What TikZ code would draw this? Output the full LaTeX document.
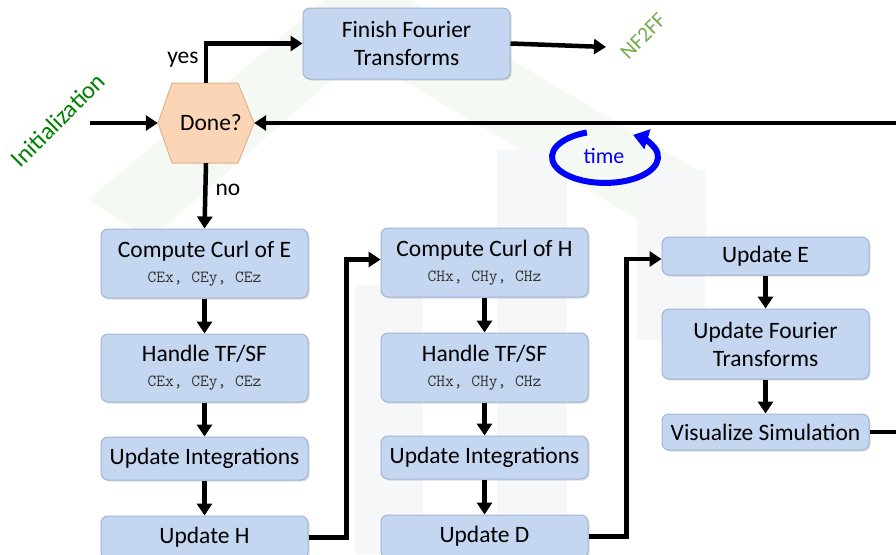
\documentclass[tikz,border=0pt]{standalone}
\usepackage{fontspec}
\setmainfont{Carlito}
\usetikzlibrary{arrows.meta,shadows}

\definecolor{boxfill}{RGB}{197,214,241}
\definecolor{boxline}{RGB}{160,180,214}
\definecolor{hexfill}{RGB}{251,213,181}
\definecolor{hexline}{RGB}{222,180,142}
\definecolor{initgreen}{RGB}{0,128,0}
\definecolor{nfgreen}{RGB}{112,173,71}
\definecolor{wmgreen}{RGB}{244,249,244}
\definecolor{wmgray}{RGB}{246,247,248}
\definecolor{codegray}{RGB}{50,50,50}

% field names in typewriter
\newcommand{\fld}[1]{{\ttfamily\fontsize{17}{19}\selectfont\color{codegray}#1}}

\tikzset{
	stepbox/.style={draw=boxline, fill=boxfill, line width=1pt, rounded corners=7pt,
		minimum width=207pt, align=center, inner sep=0pt,
		drop shadow={shadow xshift=1.5pt, shadow yshift=-1.5pt, opacity=0.25}},
	flow/.style={line width=4.5pt, -{Triangle[length=12pt,width=15pt]}},
}

\begin{document}
\begin{tikzpicture}[every node/.style={font=\fontsize{23.5}{28}\selectfont}, x=1pt, y=-1pt]

\useasboundingbox (0,0) rectangle (896,554);

% Faint watermark in the background
\fill[wmgreen] (88,200) -- (360,-30) -- (706,175) -- (706,260) -- (360,55) -- (150,240) -- cycle;
\fill[wmgray] (355,285) rectangle (423,554);
\fill[wmgray] (497,150) rectangle (567,554);
\fill[wmgray] (637,170) rectangle (705,340);

% Decision
\draw[fill=hexfill, draw=hexline, line width=1pt] (158,123) -- (172,83) -- (238,83) -- (254,123) -- (238,163) -- (172,163) -- cycle;
\node[minimum width=96pt, minimum height=80pt, inner sep=0pt] (done) at (206,123) {\hspace{10pt}Done?};

\node[stepbox, minimum height=71pt] (finish) at (406.5,43.5) {Finish Fourier\\Transforms};

% E column
\node[stepbox, minimum height=69pt] (curlE) at (204.5,263.5) {Compute Curl of E\\[-3pt]\fld{CEx, CEy, CEz}};
\node[stepbox, minimum height=68pt] (tfsfE) at (204.5,368) {Handle TF/SF\\[-3pt]\fld{CEx, CEy, CEz}};
\node[stepbox, minimum height=43pt] (integE) at (204.5,458.5) {Update Integrations};
\node[stepbox, minimum height=43pt] (updH) at (204.5,537.5) {Update H};

% H column
\node[stepbox, minimum height=69pt] (curlH) at (484.5,262.5) {Compute Curl of H\\[-3pt]\fld{CHx, CHy, CHz}};
\node[stepbox, minimum height=69pt] (tfsfH) at (484.5,367.5) {Handle TF/SF\\[-3pt]\fld{CHx, CHy, CHz}};
\node[stepbox, minimum height=43pt] (integH) at (484.5,457.5) {Update Integrations};
\node[stepbox, minimum height=43pt] (updD) at (484.5,536.5) {Update D};

% E update column
\node[stepbox, minimum height=38pt] (updE) at (765.5,256) {Update E};
\node[stepbox, minimum height=70pt] (updFT) at (765.5,344) {Update Fourier\\Transforms};
\node[stepbox, minimum height=36pt] (vis) at (765.5,432) {Visualize Simulation};

% Labels
\node[rotate=45, text=initgreen, font=\fontsize{24.5}{28}\selectfont] (init) at (58,120) {Initialization};
\node[rotate=45, text=nfgreen, font=\fontsize{21.5}{24}\selectfont] (nf) at (643,36) {NF2FF};
\node (yes) at (183,60) {yes};
\node (no) at (228,190) {no};
\node[text=blue, font=\fontsize{22}{24}\selectfont] (time) at (604,156) {time};

\coordinate (initc) at (90,123);
\coordinate (nfend) at (606,47);

% Connectors
\draw[flow] (initc) -- (done.west);
\draw[flow] (done.north) |- (finish.west);
\draw[flow] (finish.east) -- (nfend);
\draw[flow] (done.south) -- (curlE.north);

\foreach \a/\b in {curlE/tfsfE, tfsfE/integE, integE/updH, curlH/tfsfH, tfsfH/integH, integH/updD, updE/updFT, updFT/vis} {
	\draw[flow] (\a) -- (\b);
}

\draw[flow] (updH.east) -- ++(38,0) |- ([yshift=3pt]curlH.west);
\draw[flow] (updD.east) -- ++(38,0) |- ([yshift=-3pt]updE.west);
\draw[flow] (vis.east) -- ++(60,0) |- (done.east);

% time loop
\draw[blue, line width=6pt, -{Triangle[length=15pt,width=20pt]}] (605,156) ++(250:53 and 25) arc[start angle=250, end angle=-58, x radius=53, y radius=26];

\end{tikzpicture}
\end{document}
